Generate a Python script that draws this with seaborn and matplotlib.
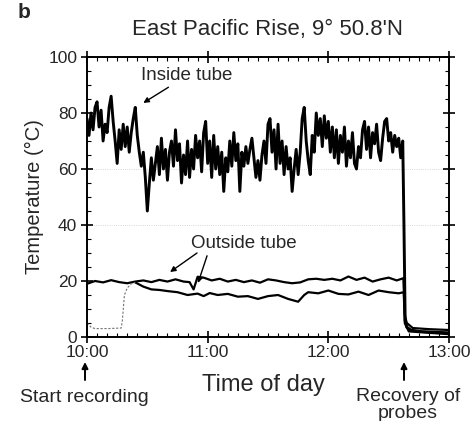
import numpy as np
import pandas as pd
import matplotlib
matplotlib.use("Agg")
import matplotlib.pyplot as plt
from matplotlib.ticker import MultipleLocator
import seaborn as sns

# time in minutes after 10:00
inside_temp = [78, 72, 80, 74, 82, 84, 75, 81, 70, 76, 73, 82, 86, 77, 70, 62, 74, 67, 76, 68,
               75, 66, 73, 78, 82, 72, 66, 61, 66, 57, 45, 55, 64, 56, 62, 68, 58, 71, 60, 67,
               56, 66, 70, 61, 74, 63, 69, 55, 65, 58, 70, 57, 67, 60, 72, 64, 70, 59, 73, 77,
               62, 70, 57, 72, 60, 68, 58, 66, 52, 64, 59, 70, 61, 73, 63, 69, 52, 66, 61, 68,
               62, 67, 71, 64, 57, 63, 56, 65, 70, 62, 76, 78, 66, 74, 60, 76, 62, 70, 58, 68,
               60, 64, 52, 60, 67, 58, 66, 78, 82, 70, 63, 58, 72, 66, 80, 72, 78, 68, 79, 71,
               77, 66, 75, 64, 74, 62, 72, 66, 75, 61, 70, 64, 73, 62, 60, 68, 64, 74, 77, 67,
               75, 64, 73, 69, 76, 66, 63, 71, 77, 78, 70, 73, 66, 72, 68, 71, 64, 70]
inside_min = list(range(len(inside_temp)))
inside_tail_min = [157.6, 158.2, 159, 161, 165, 170, 180]
inside_tail_temp = [40, 6, 3.5, 2.5, 2, 1.8, 1.5]

upper_min = [0, 4, 8, 12, 16, 20, 24, 28, 32, 36, 40, 44, 48, 51, 53, 55, 58, 62, 66, 70,
             74, 78, 82, 86, 90, 94, 98, 102, 106, 110, 114, 118, 122, 126, 130, 134, 138,
             142, 146, 150, 154, 157.3, 158, 159, 162, 170, 180]
upper_temp = [19, 20, 19.5, 20.3, 19.6, 19.2, 19.8, 20.2, 19.6, 20.4, 19.8, 20.6, 19.8, 19.6, 17,
              21.5, 21.2, 20.2, 20.8, 19.8, 20.4, 19.6, 20.2, 19.4, 20.6, 20.2, 19.6, 19.2, 19.5,
              20.6, 20.8, 20.4, 20.8, 20.2, 21.6, 20.4, 21.2, 19.8, 20.6, 21.2, 20.2, 21, 8, 5,
              3.2, 2.8, 2.5]

probe_start_min = [0, 2, 4, 10, 17, 17.6, 18.6, 20, 22, 24]
probe_start_temp = [5, 3.5, 3, 3, 3.2, 6, 15, 17.5, 19, 19.5]

lower_min = [24, 28, 32, 36, 40, 45, 50, 55, 58, 61, 65, 70, 75, 80, 85, 90, 95, 100, 105,
             108, 110, 115, 120, 125, 130, 135, 140, 145, 150, 155, 157.5, 158, 160, 170, 180]
lower_temp = [19.5, 18, 17, 16.8, 16.4, 16, 15, 15.5, 14.6, 15.7, 15, 15.4, 14.4, 14.6, 13.6,
              14.6, 15, 13.6, 12.6, 15, 16, 15.6, 16.6, 15.4, 15.2, 16.2, 15, 16.6, 16, 15.6,
              16, 5, 2, 1.5, 1]

inside = pd.DataFrame({"min": inside_min + inside_tail_min, "temp": inside_temp + inside_tail_temp})
upper = pd.DataFrame({"min": upper_min, "temp": upper_temp})
start = pd.DataFrame({"min": probe_start_min, "temp": probe_start_temp})
lower = pd.DataFrame({"min": lower_min, "temp": lower_temp})

sns.set_style("ticks")
plt.rcParams["font.family"] = ["Liberation Sans", "DejaVu Sans"]

fig = plt.figure(figsize=(4.74, 4.21), dpi=100)
ax = fig.add_axes([87 / 474, 1 - 337 / 421, 362 / 474, 280 / 421])

for yv in [40, 60]:
    ax.axhline(yv, color="0.8", lw=0.6, ls=":", zorder=0)

sns.lineplot(data=inside, x="min", y="temp", ax=ax, color="black", lw=2.1, sort=False)
sns.lineplot(data=upper, x="min", y="temp", ax=ax, color="black", lw=1.6, sort=False)
sns.lineplot(data=lower, x="min", y="temp", ax=ax, color="black", lw=1.6, sort=False)
sns.lineplot(data=start, x="min", y="temp", ax=ax, color="0.45", lw=0.8,
             linestyle=(0, (2, 1.5)), sort=False)

ax.set_xlim(0, 180)
ax.set_ylim(0, 100)
ax.xaxis.set_major_locator(MultipleLocator(60))
ax.xaxis.set_minor_locator(MultipleLocator(5))
ax.yaxis.set_major_locator(MultipleLocator(20))
ax.yaxis.set_minor_locator(MultipleLocator(5))
ax.set_xticks([0, 60, 120, 180])
ax.set_xticklabels(["10:00", "11:00", "12:00", "13:00"])
ax.tick_params(which="both", top=True, right=True, color="black", labelsize=12.5)
ax.tick_params(which="major", direction="inout", length=8, width=1.2)
ax.tick_params(which="minor", direction="in", length=3, width=0.8)
ax.tick_params(axis="x", pad=2)
ax.tick_params(axis="y", pad=3)
for s in ax.spines.values():
    s.set_color("black")
    s.set_linewidth(1.4)

ax.set_xlabel("")
ax.set_ylabel("Temperature (°C)", fontsize=14.5, labelpad=3)

arrow = dict(arrowstyle="-|>", color="black", lw=1, shrinkA=0, shrinkB=0, mutation_scale=8)
ax.text(49.7, 93.4, "Inside tube", ha="center", va="center", fontsize=13.5)
ax.annotate("", xy=(28, 83.6), xytext=(40.5, 89.2), arrowprops=arrow)
ax.text(78, 33.4, "Outside tube", ha="center", va="center", fontsize=13.5)
ax.annotate("", xy=(41.3, 23.2), xytext=(54.7, 30), arrowprops=arrow)
ax.annotate("", xy=(55.2, 19.3), xytext=(59.7, 29), arrowprops=arrow)

fig.text(24 / 474, 1 - 12 / 421, "b", fontsize=15, fontweight="bold", ha="center", va="center")
fig.text(268 / 474, 1 - 30 / 421, "East Pacific Rise, 9° 50.8'N", fontsize=16,
         ha="center", va="center")
fig.text(263 / 474, 1 - 385 / 421, "Time of day", fontsize=17, ha="center", va="center")
fig.text(84 / 474, 1 - 397 / 421, "Start recording", fontsize=14, ha="center", va="center")
fig.text(408 / 474, 1 - 405 / 421, "Recovery of\nprobes", fontsize=14, ha="center",
         va="center", linespacing=1.02)
for px in [85, 404]:
    ax.annotate("", xy=(px / 474, 1 - 362 / 421), xytext=(px / 474, 1 - 380 / 421),
                xycoords="figure fraction", textcoords="figure fraction",
                arrowprops=dict(arrowstyle="-|>", color="black", lw=1.4, shrinkA=0, shrinkB=0,
                                mutation_scale=9))

fig.savefig("out.png", dpi=100, facecolor="white")
